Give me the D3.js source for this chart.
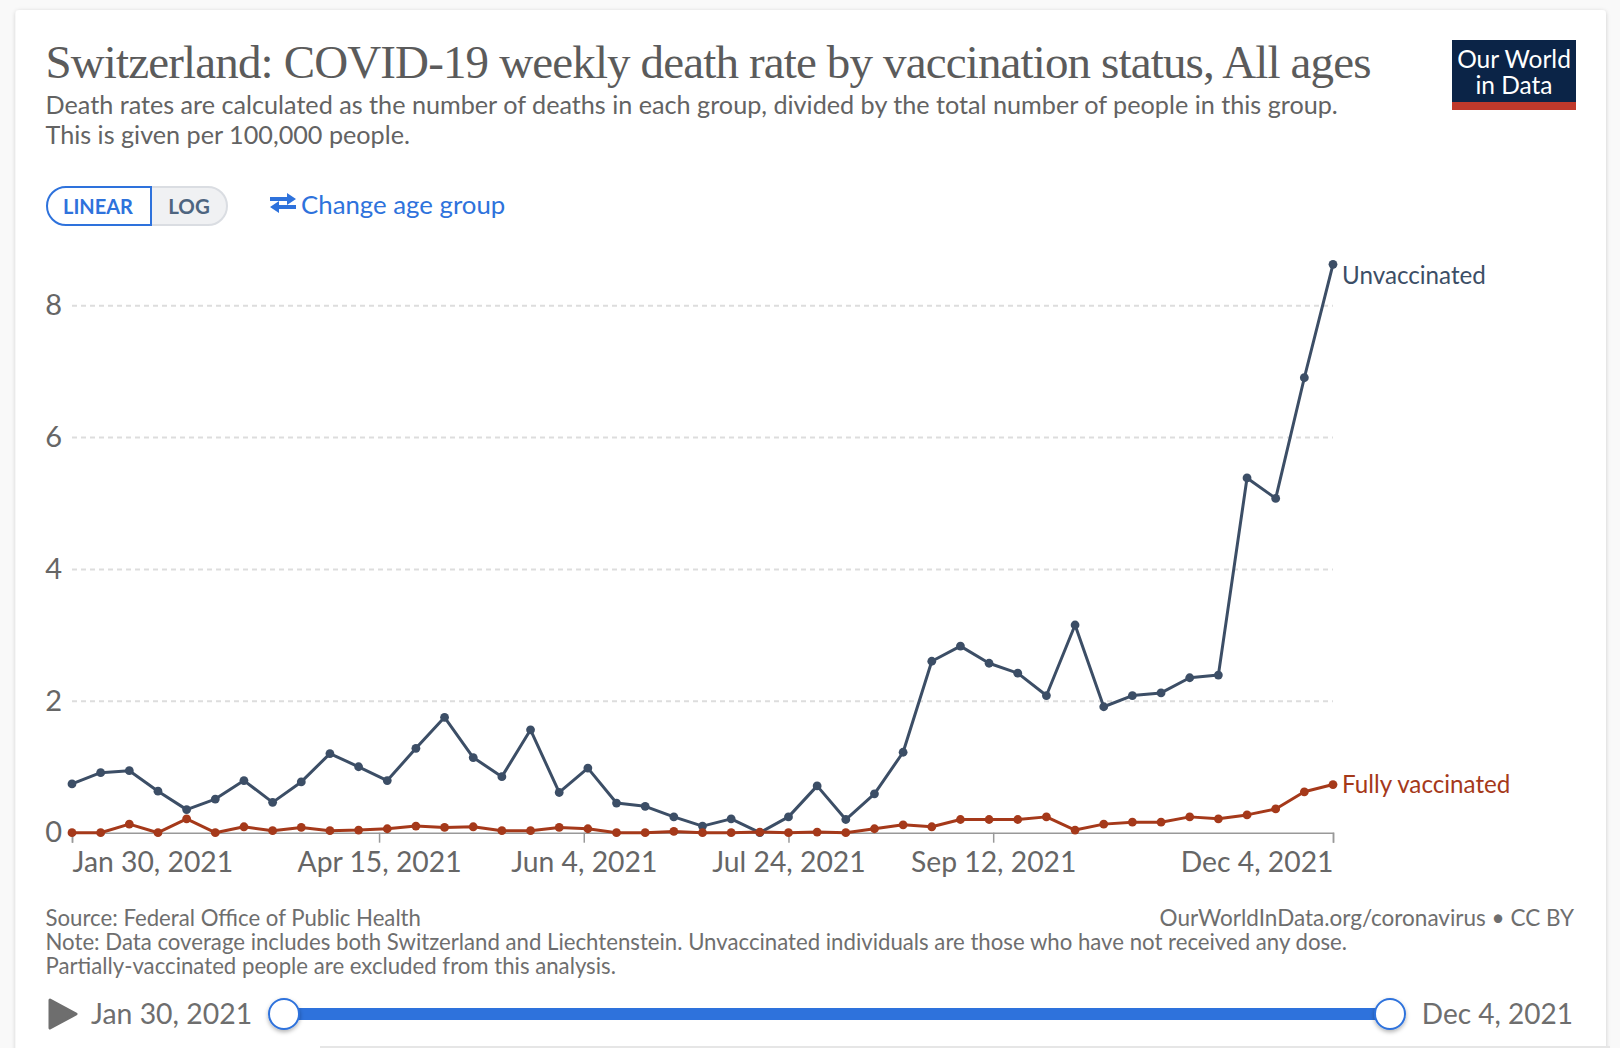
<!DOCTYPE html>
<html>
<head>
<meta charset="utf-8">
<title>Switzerland: COVID-19 weekly death rate by vaccination status</title>
<script src="https://d3js.org/d3.v7.min.js"></script>
<style>
    html, body { margin: 0; padding: 0; background: #f9f9f9; overflow: hidden; }
    svg { display: block; font-family: Lato, sans-serif; }
</style>
</head>
<body>
<svg id="chart"></svg>
<script>
const dates = [
    '2021-01-30', '2021-02-06', '2021-02-13', '2021-02-20', '2021-02-27',
    '2021-03-06', '2021-03-13', '2021-03-20', '2021-03-27', '2021-04-03',
    '2021-04-10', '2021-04-17', '2021-04-24', '2021-05-01', '2021-05-08',
    '2021-05-15', '2021-05-22', '2021-05-29', '2021-06-05', '2021-06-12',
    '2021-06-19', '2021-06-26', '2021-07-03', '2021-07-10', '2021-07-17',
    '2021-07-24', '2021-07-31', '2021-08-07', '2021-08-14', '2021-08-21',
    '2021-08-28', '2021-09-04', '2021-09-11', '2021-09-18', '2021-09-25',
    '2021-10-02', '2021-10-09', '2021-10-16', '2021-10-23', '2021-10-30',
    '2021-11-06', '2021-11-13', '2021-11-20', '2021-11-27', '2021-12-04'
];
const unvaccinated = [
    0.74, 0.91, 0.94, 0.63, 0.35, 0.51, 0.79, 0.46, 0.77, 1.20,
    1.00, 0.79, 1.28, 1.75, 1.14, 0.85, 1.56, 0.61, 0.98, 0.45,
    0.40, 0.24, 0.10, 0.21, 0.00, 0.24, 0.71, 0.20, 0.59, 1.22,
    2.60, 2.83, 2.57, 2.42, 2.08, 3.15, 1.91, 2.08, 2.12, 2.35,
    2.39, 5.38, 5.07, 6.90, 8.62
];
const fullyVaccinated = [
    0.00, 0.00, 0.13, 0.00, 0.21, 0.00, 0.09, 0.03, 0.08, 0.03,
    0.04, 0.06, 0.10, 0.08, 0.09, 0.03, 0.03, 0.08, 0.06, 0.00,
    0.00, 0.02, 0.00, 0.00, 0.01, 0.00, 0.01, 0.00, 0.06, 0.12,
    0.09, 0.20, 0.20, 0.20, 0.24, 0.04, 0.13, 0.16, 0.16, 0.24,
    0.21, 0.27, 0.36, 0.62, 0.73
];
const xTicks = ['2021-01-30', '2021-04-15', '2021-06-04', '2021-07-24', '2021-09-12', '2021-12-04'];
const yTicks = [0, 2, 4, 6, 8];
const seriesNames = ['Unvaccinated', 'Fully vaccinated'];
const seriesColors = ['#3c4e66', '#a5391a'];

const width = 1620;
const height = 1048;
const parseDate = d3.timeParse('%Y-%m-%d');
const formatDate = d3.timeFormat('%b %-d, %Y');
const parsedDates = dates.map(parseDate);
const domainX = [parsedDates[0], parsedDates[parsedDates.length - 1]];

const x_scale = d3.scaleTime().domain(domainX).range([72, 1333]);
const y_scale = d3.scaleLinear().domain([0, 8]).range([832.7, 305.2]);
const slider_scale = d3.scaleTime().domain(domainX).range([284, 1390]);

const svg = d3.select('#chart').attr('width', width).attr('height', height);

const shadow = svg.append('defs').append('filter')
    .attr('id', 'shadow')
    .attr('x', '-5%').attr('y', '-5%').attr('width', '110%').attr('height', '110%');
shadow.append('feDropShadow')
    .attr('dx', 0).attr('dy', 1).attr('stdDeviation', 2)
    .attr('flood-color', '#000').attr('flood-opacity', 0.18);

const handleShadow = svg.select('defs').append('filter')
    .attr('id', 'handle-shadow')
    .attr('x', '-50%').attr('y', '-50%').attr('width', '200%').attr('height', '200%');
handleShadow.append('feDropShadow')
    .attr('dx', 0).attr('dy', 2).attr('stdDeviation', 2)
    .attr('flood-color', '#000').attr('flood-opacity', 0.3);

svg.append('rect')
    .attr('x', 15.5).attr('y', 10).attr('width', 1590.5).attr('height', 1060)
    .attr('rx', 4)
    .attr('fill', '#fff')
    .attr('filter', 'url(#shadow)');
svg.append('rect')
    .attr('x', 320).attr('y', 1046).attr('width', 1290).attr('height', 2)
    .attr('fill', '#e6e6e6');

// header
svg.append('text')
    .attr('x', 45.5).attr('y', 78)
    .attr('font-family', '"Liberation Serif", serif')
    .attr('font-size', 47)
    .attr('fill', '#5b5b5b')
    .attr('textLength', 1326)
    .attr('lengthAdjust', 'spacing')
    .text('Switzerland: COVID-19 weekly death rate by vaccination status, All ages');

const subtitleLines = [
    'Death rates are calculated as the number of deaths in each group, divided by the total number of people in this group.',
    'This is given per 100,000 people.'
];
svg.selectAll('.subtitle')
    .data(subtitleLines)
    .enter()
    .append('text')
    .attr('class', 'subtitle')
    .attr('x', 45.5)
    .attr('y', (d, i) => 114 + i * 30)
    .attr('font-size', 25.2)
    .attr('fill', '#636363')
    .text(d => d);

// logo
svg.append('rect').attr('x', 1452).attr('y', 40).attr('width', 124).attr('height', 70).attr('fill', '#0b2447');
svg.append('rect').attr('x', 1452).attr('y', 102).attr('width', 124).attr('height', 8).attr('fill', '#c0392b');
svg.selectAll('.logo')
    .data(['Our World', 'in Data'])
    .enter()
    .append('text')
    .attr('class', 'logo')
    .attr('x', 1514)
    .attr('y', (d, i) => 68 + i * 26)
    .attr('text-anchor', 'middle')
    .attr('font-size', 24.5)
    .attr('fill', '#fff')
    .text(d => d);

// linear / log toggle
svg.append('path')
    .attr('d', 'M151,187 H208 a19,19 0 0 1 19,19 a19,19 0 0 1 -19,19 H151 Z')
    .attr('fill', '#f0f1f3')
    .attr('stroke', '#dadde2')
    .attr('stroke-width', 2);
svg.append('path')
    .attr('d', 'M151,187 H66 a19,19 0 0 0 -19,19 a19,19 0 0 0 19,19 H151 Z')
    .attr('fill', '#fff')
    .attr('stroke', '#2e72dc')
    .attr('stroke-width', 2);
svg.append('text')
    .attr('x', 98).attr('y', 214)
    .attr('text-anchor', 'middle')
    .attr('font-size', 20).attr('font-weight', 700)
    .attr('fill', '#2e72dc')
    .text('LINEAR');
svg.append('text')
    .attr('x', 189).attr('y', 214)
    .attr('text-anchor', 'middle')
    .attr('font-size', 20.5).attr('font-weight', 700)
    .attr('fill', '#4e6580')
    .text('LOG');

svg.append('path')
    .attr('d', 'M270,197 H287 V193 L296,199 L287,205 V201 H270 Z M296,205 H279 V201 L270,207 L279,213 V209 H296 Z')
    .attr('fill', '#2e72dc');
svg.append('text')
    .attr('x', 301).attr('y', 214)
    .attr('font-size', 25.8)
    .attr('fill', '#2e72dc')
    .text('Change age group');

// axes
const y_axis = d3.axisLeft(y_scale)
    .tickValues(yTicks)
    .tickSize(0)
    .tickPadding(10);
const yAxisGroup = svg.append('g')
    .attr('transform', 'translate(72,0)')
    .call(y_axis);
yAxisGroup.select('.domain').remove();
yAxisGroup.selectAll('text')
    .attr('font-family', 'Lato, sans-serif')
    .attr('font-size', 29)
    .attr('fill', '#666');
yAxisGroup.selectAll('.tick')
    .filter(d => d !== 0)
    .select('line')
    .attr('x2', x_scale.range()[1] - x_scale.range()[0])
    .attr('stroke', '#ddd')
    .attr('stroke-width', 2)
    .attr('stroke-dasharray', '5,4');
yAxisGroup.selectAll('.tick')
    .filter(d => d === 0)
    .select('line')
    .remove();

const x_axis = d3.axisBottom(x_scale)
    .tickValues(xTicks.map(parseDate))
    .tickFormat(formatDate)
    .tickSizeOuter(0)
    .tickSize(10)
    .tickPadding(9);
const xAxisGroup = svg.append('g')
    .attr('transform', 'translate(0,' + y_scale(0) + ')')
    .call(x_axis);
xAxisGroup.select('.domain')
    .attr('stroke', '#999')
    .attr('stroke-width', 1.5);
xAxisGroup.selectAll('line')
    .attr('stroke', '#999')
    .attr('stroke-width', 1.5);
xAxisGroup.selectAll('text')
    .attr('font-family', 'Lato, sans-serif')
    .attr('font-size', 28.3)
    .attr('fill', '#666')
    .style('text-anchor', (d, i) => i === 0 ? 'start' : (i === xTicks.length - 1 ? 'end' : 'middle'));

// series
const lineFunc = d3.line()
    .x(d => x_scale(d.date))
    .y(d => y_scale(d.value));

[unvaccinated, fullyVaccinated].forEach((values, s) => {
    const points = values.map((v, i) => ({ date: parsedDates[i], value: v }));
    const group = svg.append('g').attr('class', 'series');
    group.append('path')
        .attr('d', lineFunc(points))
        .attr('fill', 'none')
        .attr('stroke', seriesColors[s])
        .attr('stroke-width', 3)
        .attr('stroke-linejoin', 'round');
    group.selectAll('circle')
        .data(points)
        .enter()
        .append('circle')
        .attr('cx', d => x_scale(d.date))
        .attr('cy', d => y_scale(d.value))
        .attr('r', 4.4)
        .attr('fill', seriesColors[s]);
    group.append('text')
        .attr('x', x_scale(domainX[1]) + 9)
        .attr('y', y_scale(values[values.length - 1]) + (s === 0 ? 20 : 8))
        .attr('font-size', 24.2)
        .attr('fill', seriesColors[s])
        .text(seriesNames[s]);
});

// footer
const footerLines = [
    'Source: Federal Office of Public Health',
    'Note: Data coverage includes both Switzerland and Liechtenstein. Unvaccinated individuals are those who have not received any dose.',
    'Partially-vaccinated people are excluded from this analysis.'
];
svg.selectAll('.footer')
    .data(footerLines)
    .enter()
    .append('text')
    .attr('class', 'footer')
    .attr('x', 45.5)
    .attr('y', (d, i) => 925.5 + i * 24)
    .attr('font-size', 22.2)
    .attr('fill', '#6e6e6e')
    .text(d => d);
svg.append('text')
    .attr('x', 1574).attr('y', 925.5)
    .attr('text-anchor', 'end')
    .attr('font-size', 22.5)
    .attr('fill', '#6e6e6e')
    .text('OurWorldInData.org/coronavirus \u2022 CC BY');

// timeline
svg.append('path')
    .attr('d', 'M50,1000 L76,1014 L50,1028 Z')
    .attr('fill', '#6e6e6e')
    .attr('stroke', '#6e6e6e')
    .attr('stroke-width', 3)
    .attr('stroke-linejoin', 'round');
svg.append('text')
    .attr('x', 91).attr('y', 1024)
    .attr('font-size', 28.4)
    .attr('fill', '#6e6e6e')
    .text(formatDate(domainX[0]));
svg.append('text')
    .attr('x', 1573).attr('y', 1024)
    .attr('text-anchor', 'end')
    .attr('font-size', 28)
    .attr('fill', '#6e6e6e')
    .text(formatDate(domainX[1]));
svg.append('rect')
    .attr('x', slider_scale(domainX[0])).attr('y', 1008)
    .attr('width', slider_scale(domainX[1]) - slider_scale(domainX[0]))
    .attr('height', 12)
    .attr('fill', '#2e72dc');
svg.selectAll('.handle')
    .data(domainX)
    .enter()
    .append('circle')
    .attr('class', 'handle')
    .attr('cx', d => slider_scale(d))
    .attr('cy', 1014)
    .attr('r', 15)
    .attr('fill', '#fff')
    .attr('stroke', '#2e72dc')
    .attr('stroke-width', 2)
    .attr('filter', 'url(#handle-shadow)');
</script>
</body>
</html>
